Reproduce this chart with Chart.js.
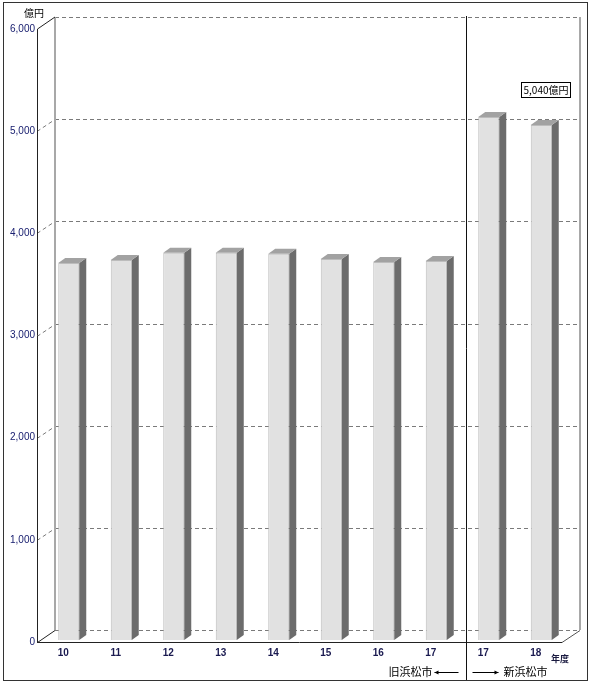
<!DOCTYPE html>
<html lang="ja">
<head>
<meta charset="utf-8">
<title>浜松市 予算額の推移</title>
<script src="https://cdn.jsdelivr.net/npm/chart.js@4/dist/chart.umd.min.js"></script>
<style>
  html, body { margin: 0; padding: 0; background: #ffffff; }
  canvas { display: block; }
</style>
</head>
<body>
<canvas id="chart" width="590" height="684"></canvas>
<script>
// 年度 (旧浜松市: 10–17, 新浜松市: 17–18)
const categories = ['10', '11', '12', '13', '14', '15', '16', '17', '17', '18'];
// 予算額 (億円)
const values = [3690, 3720, 3790, 3790, 3780, 3730, 3700, 3710, 5120, 5040];
// 目盛り
const yTicks = [0, 1000, 2000, 3000, 4000, 5000, 6000];
// 旧市と新市の境目 (この添字の前で区切る)
const splitIndex = 8;
// 金額を表示する棒
const labeledIndex = values.length - 1;

const wall = { dx: 18, dy: 12 };   // 奥の壁までのずれ
const box = { dx: 7, dy: 5 };      // 棒の奥行き
const shift = { dx: 5.5, dy: 2 };  // 棒の位置 (手前の面からのずれ)

const numFont = "'Liberation Sans', Arial, sans-serif";
const jaFont = "'Noto Sans CJK JP', 'Noto Sans', sans-serif";

const fmt = v => v.toLocaleString('en-US');

function line(ctx, x1, y1, x2, y2) {
  ctx.beginPath();
  ctx.moveTo(x1, y1);
  ctx.lineTo(x2, y2);
  ctx.stroke();
}

const frame3d = {
  id: 'frame3d',
  beforeDatasetsDraw(chart) {
    const { ctx, chartArea: a, scales: { y } } = chart;
    const L = a.left, R = a.right, B = a.bottom, T = a.top;
    ctx.save();
    ctx.lineWidth = 1;

    // 奥の壁の目盛り線
    ctx.strokeStyle = '#7a7a7a';
    ctx.setLineDash([4, 3]);
    yTicks.forEach(v => {
      const py = Math.round(y.getPixelForValue(v)) + 0.5;
      line(ctx, L + wall.dx, py - wall.dy, R + wall.dx, py - wall.dy);
      if (v !== yTicks[0] && v !== yTicks[yTicks.length - 1]) {
        line(ctx, L, py, L + wall.dx, py - wall.dy);
      }
    });
    ctx.setLineDash([]);

    // 壁の縁
    ctx.strokeStyle = '#a8a8a8';
    ctx.lineWidth = 2;
    line(ctx, L + wall.dx, T - wall.dy, L + wall.dx, B - wall.dy);
    line(ctx, R + wall.dx, T - wall.dy, R + wall.dx, B - wall.dy);
    ctx.restore();

    // 棒は手前の面から少し奥に置く
    ctx.save();
    ctx.translate(shift.dx, -shift.dy);
  },
  afterDatasetsDraw(chart) {
    const { ctx } = chart;
    const meta = chart.getDatasetMeta(0);
    meta.data.forEach(el => {
      const { x, y, base, width } = el.getProps(['x', 'y', 'base', 'width'], true);
      const l = x - width / 2, r = x + width / 2;
      // 側面
      ctx.fillStyle = '#6c6c6c';
      ctx.beginPath();
      ctx.moveTo(r, y);
      ctx.lineTo(r + box.dx, y - box.dy);
      ctx.lineTo(r + box.dx, base - box.dy);
      ctx.lineTo(r, base);
      ctx.closePath();
      ctx.fill();
      // 上面
      ctx.fillStyle = '#a2a2a2';
      ctx.beginPath();
      ctx.moveTo(l, y);
      ctx.lineTo(l + box.dx, y - box.dy);
      ctx.lineTo(r + box.dx, y - box.dy);
      ctx.lineTo(r, y);
      ctx.closePath();
      ctx.fill();
    });
    ctx.restore();

    // 軸と床
    const { chartArea: a } = chart;
    const L = a.left, R = a.right, B = a.bottom, T = a.top;
    ctx.save();
    ctx.lineWidth = 1;
    ctx.strokeStyle = '#222222';
    line(ctx, L + 0.5, T, L + 0.5, B);
    line(ctx, L, B + 0.5, R, B + 0.5);
    line(ctx, L + 0.5, T, L + wall.dx, T - wall.dy);
    line(ctx, L + 0.5, B + 0.5, L + wall.dx, B - wall.dy + 0.5);
    ctx.strokeStyle = '#555555';
    line(ctx, R, B + 0.5, R + wall.dx, B - wall.dy + 0.5);
    ctx.restore();
  },
  afterDraw(chart) {
    const { ctx, chartArea: a, scales: { x } } = chart;
    const L = a.left, R = a.right, B = a.bottom, T = a.top;
    const W = chart.width, H = chart.height;
    ctx.save();

    // 旧市・新市の区切り線
    const dx = Math.round((x.getPixelForValue(splitIndex - 1) + x.getPixelForValue(splitIndex)) / 2 + wall.dx / 2) + 0.5;
    ctx.strokeStyle = '#111111';
    ctx.lineWidth = 1;
    line(ctx, dx, T - wall.dy - 1, dx, H - 3);

    // 外枠
    ctx.strokeStyle = '#333333';
    ctx.strokeRect(3.5, 2.5, W - 6, H - 6);

    // 単位
    ctx.fillStyle = '#000000';
    ctx.font = `10px ${jaFont}`;
    ctx.textAlign = 'center';
    ctx.textBaseline = 'middle';
    ctx.fillText('億円', 34, 13);

    ctx.font = `bold 9px ${jaFont}`;
    ctx.fillStyle = '#1a1a40';
    ctx.fillText('年度', R - 2, B + 17);

    // 旧浜松市 ←   → 新浜松市
    const ly = B + 30;
    ctx.fillStyle = '#000000';
    ctx.font = `11px ${jaFont}`;
    ctx.textAlign = 'right';
    ctx.fillText('旧浜松市', dx - 34, ly);
    ctx.textAlign = 'left';
    ctx.fillText('新浜松市', dx + 37, ly);

    ctx.strokeStyle = '#000000';
    ctx.fillStyle = '#000000';
    const arrow = (x1, x2) => {
      line(ctx, x1, ly + 0.5, x2, ly + 0.5);
      const d = Math.sign(x2 - x1);
      ctx.beginPath();
      ctx.moveTo(x2, ly + 0.5);
      ctx.lineTo(x2 - d * 4, ly - 1.5);
      ctx.lineTo(x2 - d * 4, ly + 2.5);
      ctx.closePath();
      ctx.fill();
    };
    arrow(dx - 8, dx - 32);
    arrow(dx + 6, dx + 32);

    // 金額の表示
    const el = chart.getDatasetMeta(0).data[labeledIndex];
    const text = fmt(values[labeledIndex]) + '億円';
    ctx.font = `10px ${jaFont}`;
    const tw = ctx.measureText(text).width;
    const bw = Math.round(tw + 4), bh = 15;
    const cx = el.x + shift.dx + 4;
    const cy = el.y - shift.dy - 36;
    const bx = Math.round(cx - bw / 2) + 0.5, by = Math.round(cy - bh / 2) + 0.5;
    ctx.fillStyle = '#ffffff';
    ctx.fillRect(bx, by, bw, bh);
    ctx.strokeStyle = '#000000';
    ctx.strokeRect(bx, by, bw, bh);
    ctx.fillStyle = '#000000';
    ctx.textAlign = 'center';
    ctx.textBaseline = 'middle';
    ctx.fillText(text, bx + bw / 2, by + bh / 2 + 0.5);

    ctx.restore();
  }
};

new Chart(document.getElementById('chart'), {
  type: 'bar',
  data: {
    labels: categories,
    datasets: [{
      data: values,
      backgroundColor: '#e1e1e1',
      borderColor: '#bcbcbc',
      borderWidth: 1,
      barPercentage: 0.4,
      categoryPercentage: 1.0
    }]
  },
  options: {
    responsive: false,
    devicePixelRatio: 1,
    animation: false,
    events: [],
    layout: { padding: { left: 3, right: 28, top: 29, bottom: 0 } },
    plugins: {
      legend: { display: false },
      tooltip: { enabled: false },
      title: { display: false }
    },
    scales: {
      x: {
        type: 'category',
        offset: true,
        grid: { display: false, drawTicks: false },
        border: { display: false },
        ticks: {
          padding: 5,
          autoSkip: false,
          maxRotation: 0,
          color: '#1a1a50',
          font: { family: numFont, size: 10, weight: 'bold' }
        },
        afterFit(scale) { scale.height = 42; }
      },
      y: {
        min: 0,
        max: 6000,
        afterBuildTicks(scale) { scale.ticks = yTicks.map(v => ({ value: v })); },
        grid: { display: false, drawTicks: false },
        border: { display: false },
        ticks: {
          padding: 2,
          color: '#1a2070',
          font: { family: numFont, size: 10 },
          callback: v => fmt(v)
        },
        afterFit(scale) { scale.width = 34; }
      }
    }
  },
  plugins: [frame3d]
});
</script>
</body>
</html>
